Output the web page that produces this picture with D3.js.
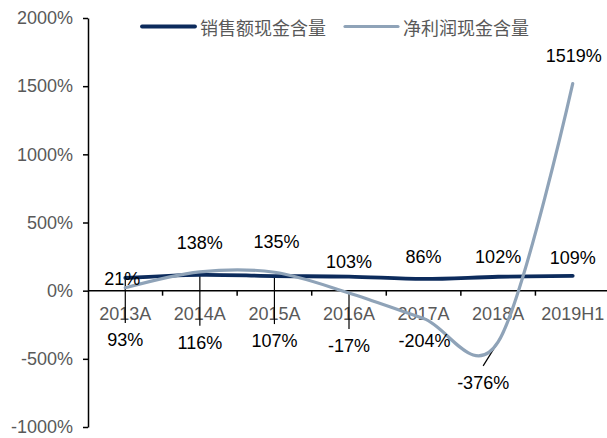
<!DOCTYPE html>
<html><head><meta charset="utf-8">
<script src="https://cdn.jsdelivr.net/npm/d3@7/dist/d3.min.js"></script>
<style>html,body{margin:0;padding:0;background:#fff;}svg{display:block;}</style>
</head><body>
<svg id="chart" width="607" height="438"></svg>
<script>
// ---- data ----
const categories = ["2013A","2014A","2015A","2016A","2017A","2018A","2019H1"];
const salesCash = [93,116,107,103,86,102,109];        // 销售额现金含量
const profitCash = [21,138,135,-17,-204,-376,1519];   // 净利润现金含量
const yTicks = [-1000,-500,0,500,1000,1500,2000];
const seriesNames = ["销售额现金含量","净利润现金含量"];

// ---- label layout (offsets from point, px) ----
const salesLabelOffset = [[0,62],[0,68],[0,65],[0,-15],[0,-22],[0,-20],[0,-18]];
const profitLabelOffset = [[-3,-9],[0,-29],[2,-30],[0,53],[1,23],[-15,41],[1,-28]];
const salesLeader = [true,true,true,false,false,false,false];
const profitLeader = [false,false,false,true,false,true,false];

const svg = d3.select("#chart");
const x = d3.scaleBand().domain(categories).range([88,610]);
const y = d3.scaleLinear().domain([-1000,2000]).range([427,18]);
const cx = c => x(c) + x.bandwidth()/2;

const darkC = "#0c2b5c", grayC = "#8fa3b8", txtC = "#595959";
const font = "'Liberation Sans', Arial, sans-serif";

// y axis
const yAxis = svg.append("g").attr("transform","translate(88,0)")
  .call(d3.axisLeft(y).tickValues(yTicks).tickSize(5).tickSizeOuter(0).tickFormat(d => d + "%"));
yAxis.select(".domain").attr("stroke","#000").attr("stroke-width",1.5);
yAxis.selectAll(".tick line").attr("stroke","#000").attr("stroke-width",1.5);
yAxis.selectAll(".tick text").attr("fill",txtC).attr("font-size","18px").attr("font-family",font).attr("x",-15);

// x axis at zero
const y0 = y(0);
svg.append("line").attr("x1",88).attr("x2",610).attr("y1",y0).attr("y2",y0)
  .attr("stroke","#000").attr("stroke-width",1.5);
svg.append("g").selectAll("line").data(categories.slice(1)).join("line")
  .attr("x1",d=>x(d)).attr("x2",d=>x(d)).attr("y1",y0).attr("y2",y0+5)
  .attr("stroke","#000").attr("stroke-width",1.5);
svg.append("g").selectAll("text").data(categories).join("text")
  .attr("x",d=>cx(d)).attr("y",y0+23).attr("text-anchor","middle")
  .attr("dominant-baseline","central")
  .attr("fill",txtC).attr("font-size","18px").attr("font-family",font).text(d=>d);

// leader lines
function leaders(vals, offs, flags){
  const g = svg.append("g");
  vals.forEach((v,i)=>{
    if(!flags[i]) return;
    const px = cx(categories[i]), py = y(v);
    const lx = px + offs[i][0], ly = py + offs[i][1];
    const dir = Math.sign(offs[i][1]);
    const ex = offs[i][0] === 0 ? px : lx, ey = ly - dir*17;
    g.append("line").attr("x1",px).attr("y1",py).attr("x2",ex).attr("y2",ey)
      .attr("stroke","#000").attr("stroke-width",1.2);
  });
}
leaders(salesCash, salesLabelOffset, salesLeader);
leaders(profitCash, profitLabelOffset, profitLeader);

// lines
const line = d3.line().x((d,i)=>cx(categories[i])).y(d=>y(d)).curve(d3.curveCardinal.tension(0));
svg.append("path").datum(salesCash).attr("d",line).attr("fill","none")
  .attr("stroke",darkC).attr("stroke-width",3.8).attr("stroke-linecap","round");
svg.append("path").datum(profitCash).attr("d",line).attr("fill","none")
  .attr("stroke",grayC).attr("stroke-width",3.2).attr("stroke-linecap","round");

// data labels
function labels(vals, offs){
  svg.append("g").selectAll("text").data(vals).join("text")
    .attr("x",(d,i)=>cx(categories[i]) + offs[i][0])
    .attr("y",(d,i)=>y(d) + offs[i][1])
    .attr("text-anchor","middle").attr("dominant-baseline","central")
    .attr("fill","#000").attr("font-size","18px").attr("font-family",font)
    .text(d=>d + "%");
}
labels(salesCash, salesLabelOffset);
labels(profitCash, profitLabelOffset);

// legend
const legend = svg.append("g");
const legItems = [{name:seriesNames[0],color:darkC,w:3.8,x:142},{name:seriesNames[1],color:grayC,w:3.2,x:345}];
legItems.forEach(it=>{
  legend.append("line").attr("x1",it.x).attr("x2",it.x+53).attr("y1",26.5).attr("y2",26.5)
    .attr("stroke",it.color).attr("stroke-width",it.w).attr("stroke-linecap","round");
  legend.append("text").attr("x",it.x+58).attr("y",26.5).attr("dominant-baseline","central")
    .attr("fill",txtC).attr("font-size","18px")
    .attr("font-family","'Noto Sans CJK SC', sans-serif").text(it.name);
});
</script>
</body></html>
